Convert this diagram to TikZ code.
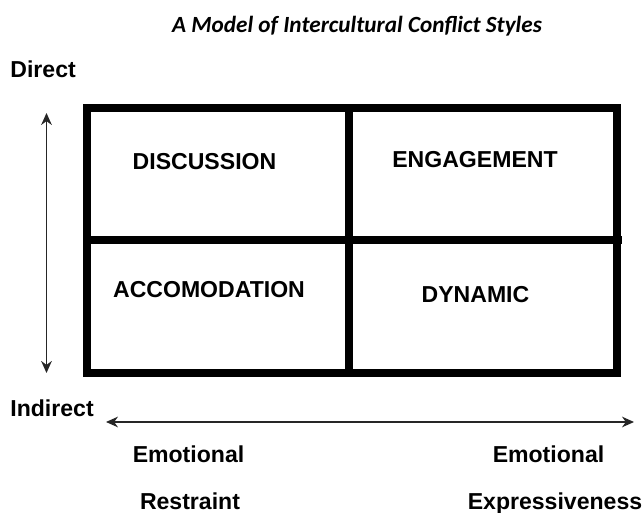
\documentclass[tikz,border=0pt]{standalone}
\usepackage{fontspec}
\setmainfont{Liberation Sans}
\newfontfamily\titlefont{Carlito}
\usetikzlibrary{arrows.meta,positioning}

\begin{document}
\begin{tikzpicture}[x=0.75pt,y=-0.75pt,>={Stealth[length=9pt,width=8pt]},semithick]
\tikzstyle{lbl} = [font=\fontsize{17.3}{20}\selectfont\bfseries,inner sep=0pt,anchor=base]
\tikzstyle{grid} = [line width=6pt,line join=miter]
\tikzstyle{axis} = [<->,line width=1.1pt,black!85]
    \useasboundingbox (0,0) rectangle (644,513);

    \node[font=\titlefont\fontsize{17.4}{20}\selectfont\bfseries\itshape,inner sep=0pt,anchor=base] (title) at (357,33) {A Model of Intercultural Conflict Styles};

    % the four cells
    \coordinate (nw) at (86.5,108.5);
    \coordinate (se) at (617,373.5);
    \coordinate (ntop) at (348.5,108.5);
    \coordinate (nbot) at (348.5,373.5);
    \coordinate (wmid) at (86.5,240.5);
    \coordinate (emid) at (622,240.5);
    \draw[grid] (nw) rectangle (se);
    \draw[grid] (ntop) -- (nbot);
    \draw[grid] (wmid) -- (emid);

    \node[lbl] (discussion) at (204.5,170) {DISCUSSION};
    \node[lbl] (engagement) at (475,168) {ENGAGEMENT};
    \node[lbl] (accomodation) at (209,298) {ACCOMODATION};
    \node[lbl] (dynamic) at (475.5,303) {DYNAMIC};

    % axes
    \node[lbl,anchor=base west] (direct) at (10,78) {Direct};
    \node[lbl,anchor=base west] (indirect) at (10,417) {Indirect};
    \coordinate (vtop) at (46.5,113);
    \coordinate (vbot) at (46.5,373);
    \coordinate (hleft) at (106,422);
    \coordinate (hright) at (634,422);
    \draw[axis] (vtop) -- (vbot);
    \draw[axis] (hleft) -- (hright);

    \node[lbl] (emo1) at (188.5,463) {Emotional};
    \node[lbl] (restraint) at (190,510) {Restraint};
    \node[lbl] (emo2) at (548.5,463) {Emotional};
    \node[lbl] (express) at (555,510) {Expressiveness};
\end{tikzpicture}
\end{document}
